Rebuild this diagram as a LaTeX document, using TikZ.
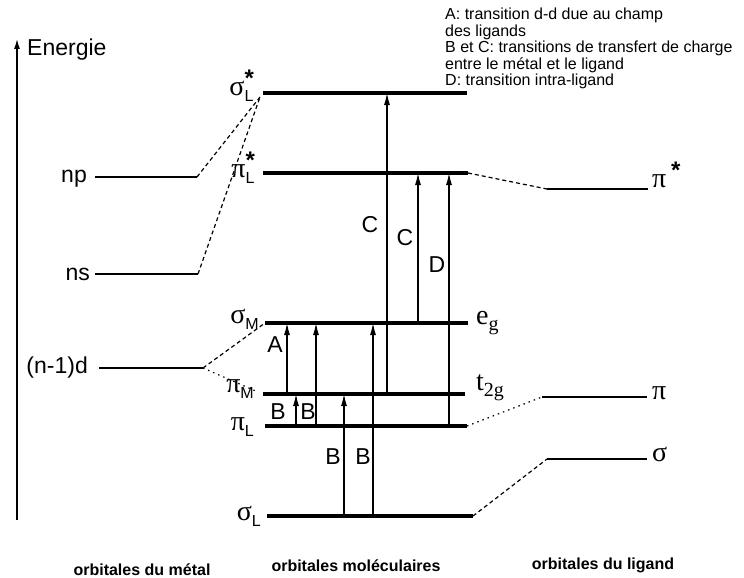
\documentclass[tikz,border=0pt]{standalone}
\usepackage{fontspec}
\setmainfont{Liberation Sans}
\setsansfont{Liberation Sans}
\newfontfamily\grk{Liberation Serif}
\usetikzlibrary{arrows.meta}

\newcommand{\lowtxt}[1]{\raisebox{-6pt}{\fontsize{16}{16}\selectfont #1}}
\newcommand{\hightxt}[1]{\raisebox{9pt}{\fontsize{24}{24}\selectfont\bfseries #1}}
\newcommand{\orb}[3]{{\grk #1}\rlap{\lowtxt{\sffamily #2}}\hightxt{\sffamily #3}\phantom{\lowtxt{\sffamily #2}}}

\begin{document}
\begin{tikzpicture}[x = 1pt, y = -1pt,
        level/.style = {line width = 3.8pt},
        atom/.style = {line width = 1.2pt},
        link/.style = {line width = 1.2pt, dash pattern = on 4pt off 3pt},
        weak/.style = {line width = 1.2pt, dash pattern = on 1.5pt off 4pt},
        trans/.style = {line width = 1.1pt, -{Latex[length = 12pt, width = 6pt]}},
        big/.style = {font = \fontsize{23}{26}\selectfont, inner sep = 0},
        greek/.style = {font = \fontsize{28}{30}\selectfont, inner sep = 0},
        tag/.style = {font = \fontsize{23}{25}\selectfont, inner sep = 0},
        side/.style = {font = \fontsize{16}{18}\selectfont\bfseries, inner sep = 0}]

        \useasboundingbox (0,0) rectangle (744,578);

        % axe des energies
        \coordinate (axb) at (17,520);
        \coordinate (axt) at (17,39);
        \draw [line width = 1.2pt, -{Latex[length = 10pt, width = 6pt]}] (axb) -- (axt);
        \node [big, anchor = base west] (energie) at (27,56) {Energie};

        % legende
        \node [anchor = north west, inner sep = 0, align = left,
               font = \fontsize{16}{16.5}\selectfont] (legende) at (445,8)
              {A: transition d-d due au champ\\des ligands\\B et C: transitions de transfert de charge\\entre le métal et le ligand\\D: transition intra-ligand};

        % orbitales moleculaires
        \foreach \n/\xa/\xb/\y in {sLs/263/467/93, pLs/263/468/173, sM/265/468/323,
                                    pM/263/465/394, pL/265/467/426, sL/267/473/516} {
            \coordinate (\n-l) at (\xa,\y);
            \coordinate (\n-r) at (\xb,\y);
            \draw [level] (\n-l) -- (\n-r);
        }

        % orbitales du metal et du ligand
        \foreach \n/\xa/\xb/\y in {np/95/197/177, ns/95/198/274, nd/99/203/368,
                                    ps/547/648/189, pi/542/647/397, si/547/647/459} {
            \coordinate (\n-l) at (\xa,\y);
            \coordinate (\n-r) at (\xb,\y);
            \draw [atom] (\n-l) -- (\n-r);
        }

        % correlations
        \coordinate (sLs-k) at (260,97);
        \coordinate (pM-k) at (258,392);
        \draw [link] (np-r) -- (sLs-k);
        \draw [link] (ns-r) -- (sLs-k);
        \draw [link] (nd-r) -- (sM-l);
        \draw [weak] (nd-r) -- (pM-k);
        \draw [link] (pLs-r) -- (ps-l);
        \draw [weak] (pL-r) -- (pi-l);
        \draw [link] (sL-r) -- (si-l);

        % transitions
        \foreach \x/\from/\to in {287/pM/sM, 296/pL/pM, 316/pL/sM, 344/sL/pM,
                                  373/sL/sM, 387/pM/sLs, 418/sM/pLs, 449/pL/pLs} {
            \coordinate (col) at (\x,0);
            \draw [trans] (\from-l -| col) -- (\to-l -| col);
        }
        \foreach \t/\x/\y in {A/275/345, B/278/412, B/308/412, B/333/457,
                              B/363/457, C/370/225, C/405/238, D/437/265}
            \node [tag] (tag\x) at (\x,\y) {\t};

        % etiquettes des niveaux
        \node [greek, anchor = mid east] (sLs-t) at (263,93) {\orb{σ}{L}{*}};
        \node [greek, anchor = mid east] (pLs-t) at (264,175) {\orb{π}{L}{*}};
        \node [greek, anchor = mid east] (sM-t) at (259,321) {\orb{σ}{M}{}};
        \node [greek, anchor = mid east] (pM-t) at (254,390) {\orb{π}{M}{}};
        \node [greek, anchor = mid east] (pL-t) at (254,428) {\orb{π}{L}{}};
        \node [greek, anchor = mid east] (sL-t) at (261,518) {\orb{σ}{L}{}};
        \node [greek, anchor = mid west] (eg-t) at (476,322) {{\grk e}\raisebox{-6pt}{\fontsize{20}{20}\selectfont\grk g}};
        \node [greek, anchor = mid west] (t2g-t) at (476,388) {{\grk t}\raisebox{-6pt}{\fontsize{20}{20}\selectfont\grk 2g}};
        \node [greek, anchor = mid west] (ps-t) at (652,185) {{\grk π}\,\hightxt{*}};
        \node [greek, anchor = mid west] (pi-t) at (652,397) {{\grk π}};
        \node [greek, anchor = mid west] (si-t) at (652,459) {{\grk σ}};
        \node [big, anchor = base east] (np-t) at (87,182) {np};
        \node [big, anchor = base east] (ns-t) at (90,280) {ns};
        \node [big, anchor = base east] (nd-t) at (88,373) {(n-1)d};

        % colonnes
        \node [side] (metal) at (142,570) {orbitales du métal};
        \node [side] (mol) at (356,566) {orbitales moléculaires};
        \node [side] (ligand) at (603,565) {orbitales du ligand};
\end{tikzpicture}
\end{document}
